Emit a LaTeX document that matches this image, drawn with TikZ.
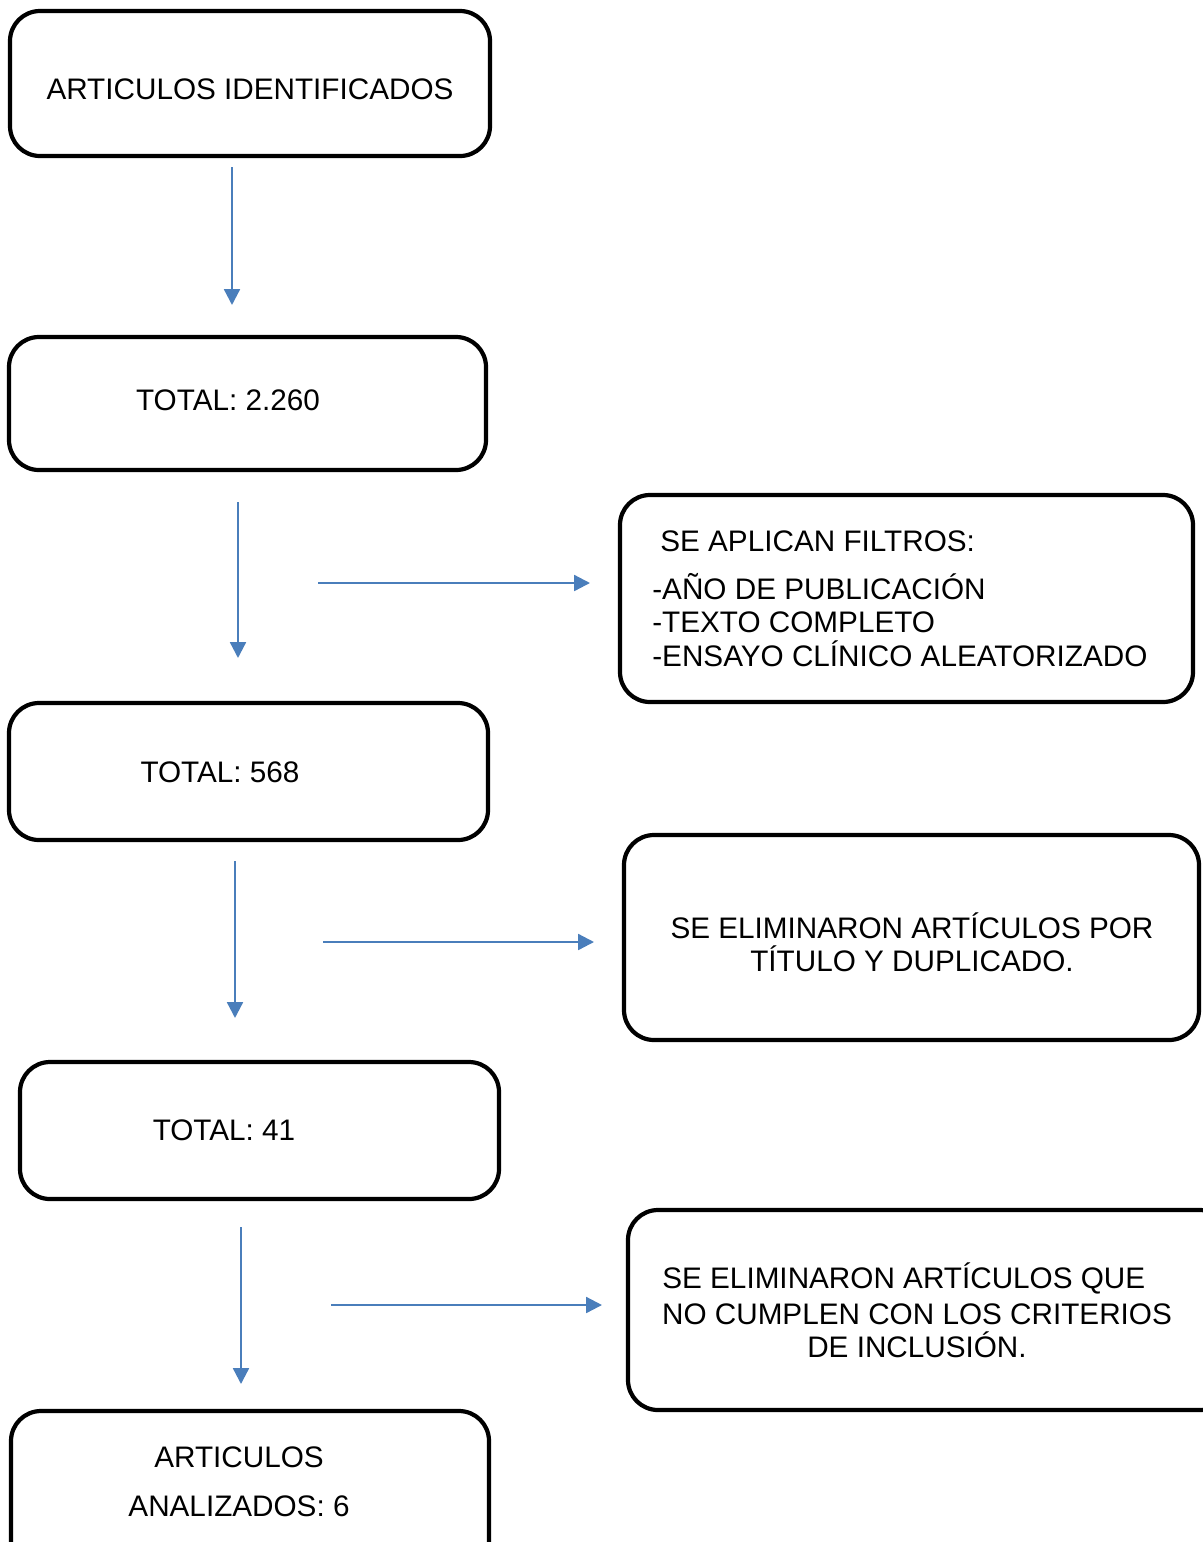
\documentclass[tikz,border=0pt]{standalone}
\usepackage{fontspec}
\setmainfont{Liberation Sans}
\usetikzlibrary{arrows.meta}
\definecolor{flecha}{HTML}{4A7EBB}
\tikzset{
  caja/.style={line width=2.4pt, rounded corners=0.6cm},
  txt/.style={font=\fontsize{16.9}{19}\selectfont, inner sep=0pt, anchor=base},
  flechita/.style={flecha, line width=1.3pt, -{Triangle[length=9pt,width=9pt]}}
}
\begin{document}
\begin{tikzpicture}[x=0.02cm,y=-0.02cm]
        \useasboundingbox (0,0) rectangle (1203,1542);
        \clip (0,0) rectangle (1203,1542);

        % Boxes on the left
        \draw[caja] (10,11) rectangle (490,156);
        \node[txt] (ident) at (250,99) {ARTICULOS IDENTIFICADOS};

        \draw[caja] (9,337) rectangle (486,470);
        \node[txt] (tot1) at (228,410) {TOTAL: 2.260};

        \draw[caja] (9,703) rectangle (488,840);
        \node[txt] (tot2) at (220,782) {TOTAL: 568};

        \draw[caja] (20,1062) rectangle (499,1199);
        \node[txt] (tot3) at (224,1140) {TOTAL: 41};

        \draw[caja] (11,1411) rectangle (489,1570);
        \node[txt, align=center, anchor=center] (final) at (239,1482) {ARTICULOS\\[9pt]ANALIZADOS: 6};

        % Boxes on the right
        \draw[caja] (620,495) rectangle (1193,702);
        \node[txt, anchor=base west] (filtros) at (660,551) {SE APLICAN FILTROS:};
        \node[txt, anchor=west, align=left] (filtrosL) at (652,620) {-AÑO DE PUBLICACIÓN\\-TEXTO COMPLETO\\-ENSAYO CLÍNICO ALEATORIZADO};

        \draw[caja] (624,835) rectangle (1199,1040);
        \node[txt, align=center, anchor=center] (elim1) at (912,942) {SE ELIMINARON ARTÍCULOS POR\\TÍTULO Y DUPLICADO.};

        \draw[caja] (628,1210) rectangle (1230,1410);
        \node[txt, anchor=base west] (elim2a) at (662,1288) {SE ELIMINARON ARTÍCULOS QUE};
        \node[txt, align=center, anchor=center] (elim2b) at (917,1331) {NO CUMPLEN CON LOS CRITERIOS\\DE INCLUSIÓN.};

        % Arrow ends
        \coordinate (v1a) at (232,167);  \coordinate (v1b) at (232,305);
        \coordinate (v2a) at (238,502);  \coordinate (v2b) at (238,658);
        \coordinate (v3a) at (235,861);  \coordinate (v3b) at (235,1018);
        \coordinate (v4a) at (241,1227); \coordinate (v4b) at (241,1384);
        \coordinate (h1a) at (318,583);  \coordinate (h1b) at (590,583);
        \coordinate (h2a) at (323,942);  \coordinate (h2b) at (594,942);
        \coordinate (h3a) at (331,1305); \coordinate (h3b) at (602,1305);

        % Arrows
        \foreach \s/\e in {v1a/v1b,v2a/v2b,v3a/v3b,v4a/v4b,h1a/h1b,h2a/h2b,h3a/h3b} {
            \draw[flechita] (\s) -- (\e);
        }
\end{tikzpicture}
\end{document}
